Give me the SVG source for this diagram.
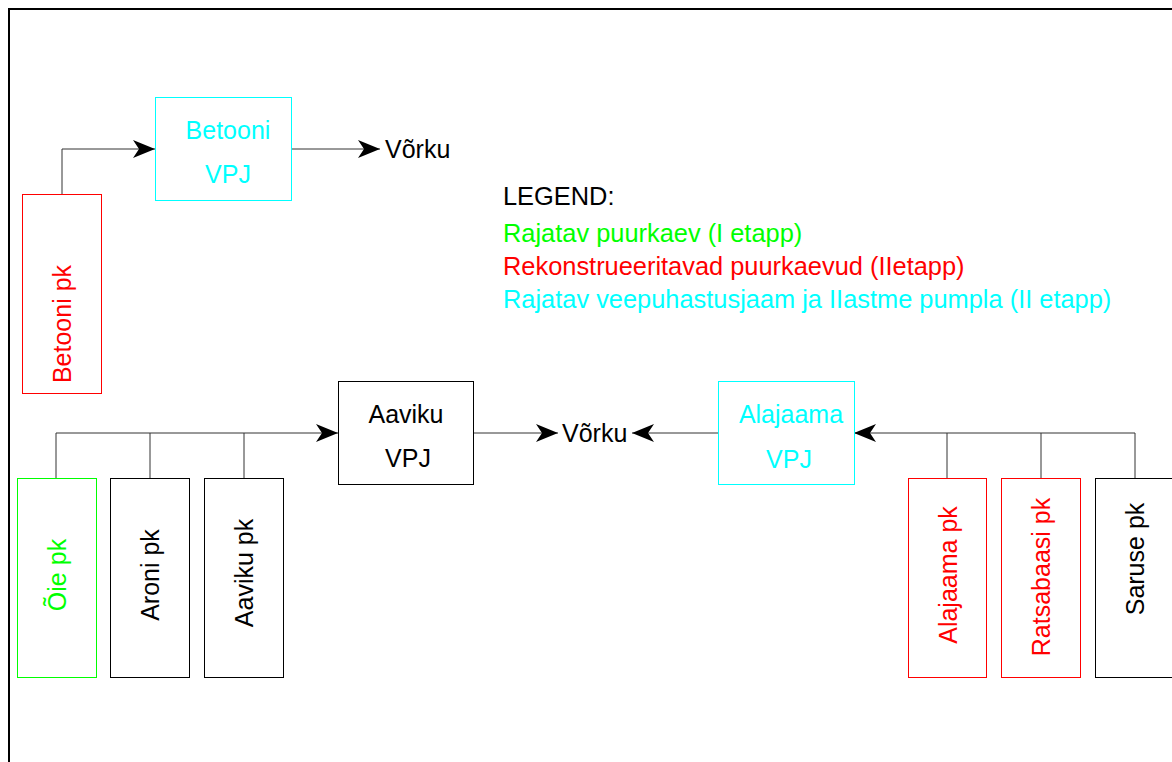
<svg xmlns="http://www.w3.org/2000/svg" width="1172" height="762" viewBox="0 0 1172 762">
<defs>
<marker id="ah" viewBox="0 0 22 18" refX="22" refY="9" markerWidth="22" markerHeight="18" markerUnits="userSpaceOnUse" orient="auto">
<path d="M0,0 L22,9 L0,18 L6,9 Z" fill="#000"/>
</marker>
</defs>
<style>
text{font-family:"Liberation Sans",Arial,sans-serif;font-size:25px}
.lg{font-size:25.4px}
.box{fill:#fff;stroke-width:1}
.k{stroke:#000}.r{stroke:#f00}.c{stroke:#0ff}.g{stroke:#0f0}
.tk{fill:#000}.tr{fill:#f00}.tc{fill:#0ff}.tg{fill:#0f0}
.ln{fill:none;stroke:#333;stroke-width:1}
</style>
<rect width="1172" height="762" fill="#fff"/>
<path d="M9,762 V9 H1172" fill="none" stroke="#000" stroke-width="2"/>
<g id="connectors">
<path class="ln" d="M62,194 V149 H155" marker-end="url(#ah)"/>
<path class="ln" d="M291,149 H380" marker-end="url(#ah)"/>
<path class="ln" d="M56,478 V433 H338" marker-end="url(#ah)"/>
<path class="ln" d="M150,478 V433"/>
<path class="ln" d="M244,478 V433"/>
<path class="ln" d="M473,433 H558" marker-end="url(#ah)"/>
<path class="ln" d="M718,433 H632" marker-end="url(#ah)"/>
<path class="ln" d="M1135,478 V433 H854" marker-end="url(#ah)"/>
<path class="ln" d="M947,478 V433"/>
<path class="ln" d="M1041,478 V433"/>
</g>
<g id="betooni-vpj"><rect class="box c" x="155.5" y="97.5" width="136" height="103"/><text class="tc" x="228" y="139" text-anchor="middle">Betooni</text><text class="tc" x="228" y="183" text-anchor="middle">VPJ</text></g>
<g id="vorku-top"><text class="tk" x="385" y="158">Võrku</text></g>
<g id="betooni-pk"><rect class="box r" x="22.5" y="194.5" width="79" height="199"/><text class="tr" transform="translate(71,324) rotate(-90)" text-anchor="middle">Betooni pk</text></g>
<g id="legend">
<text class="tk lg" x="503" y="205">LEGEND:</text>
<text class="tg lg" x="503" y="242">Rajatav puurkaev (I etapp)</text>
<text class="tr lg" x="503" y="275">Rekonstrueeritavad puurkaevud (IIetapp)</text>
<text class="tc lg" x="503" y="308">Rajatav veepuhastusjaam ja IIastme pumpla (II etapp)</text>
</g>
<g id="aaviku-vpj"><rect class="box k" x="338.5" y="381.5" width="135" height="103"/><text class="tk" x="406" y="423" text-anchor="middle">Aaviku</text><text class="tk" x="408" y="467" text-anchor="middle">VPJ</text></g>
<g id="vorku-mid"><text class="tk" x="562" y="442">Võrku</text></g>
<g id="alajaama-vpj"><rect class="box c" x="718.5" y="381.5" width="136" height="103"/><text class="tc" x="791" y="423" text-anchor="middle">Alajaama</text><text class="tc" x="789" y="468" text-anchor="middle">VPJ</text></g>
<g id="oie-pk"><rect class="box g" x="17.5" y="478.5" width="79" height="199"/><text class="tg" transform="translate(66,575) rotate(-90)" text-anchor="middle">Õie pk</text></g>
<g id="aroni-pk"><rect class="box k" x="110.5" y="478.5" width="79" height="199"/><text class="tk" transform="translate(159,575) rotate(-90)" text-anchor="middle">Aroni pk</text></g>
<g id="aaviku-pk"><rect class="box k" x="204.5" y="478.5" width="79" height="199"/><text class="tk" transform="translate(253,573) rotate(-90)" text-anchor="middle">Aaviku pk</text></g>
<g id="alajaama-pk"><rect class="box r" x="908.5" y="478.5" width="78" height="199"/><text class="tr" transform="translate(957,575) rotate(-90)" text-anchor="middle">Alajaama pk</text></g>
<g id="ratsabaasi-pk"><rect class="box r" x="1001.5" y="478.5" width="79" height="199"/><text class="tr" transform="translate(1050,577) rotate(-90)" text-anchor="middle">Ratsabaasi pk</text></g>
<g id="saruse-pk"><rect class="box k" x="1095.5" y="478.5" width="79" height="199"/><text class="tk" transform="translate(1144,559) rotate(-90)" text-anchor="middle">Saruse pk</text></g>
</svg>
